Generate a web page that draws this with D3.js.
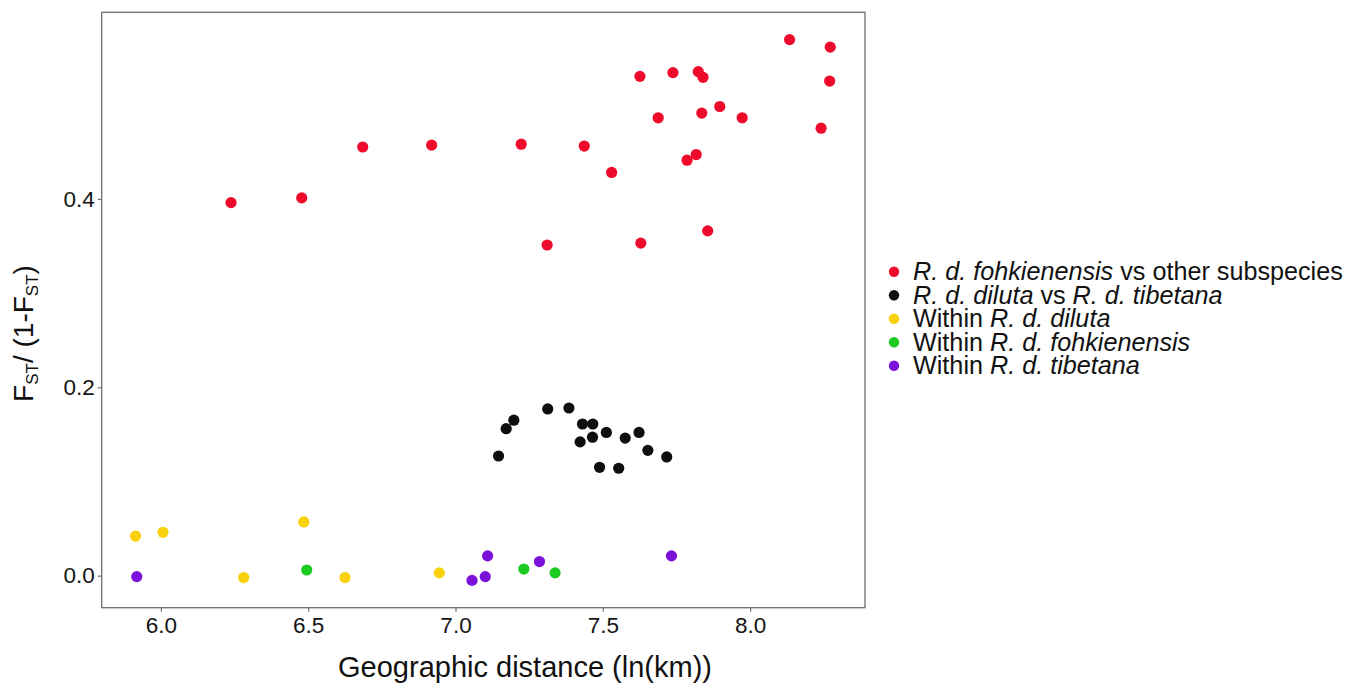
<!DOCTYPE html>
<html>
<head>
<meta charset="utf-8">
<script src="https://cdn.jsdelivr.net/npm/d3@7"></script>
<style>
  html, body { margin: 0; padding: 0; background: #fff; }
  svg { display: block; font-family: "Liberation Sans", Arial, Helvetica, sans-serif; }
  text { white-space: pre; }
</style>
</head>
<body>
<svg id="chart" width="1357" height="694"></svg>
<script>
// ---- data ----
const seriesNames = ["fohk_vs_other", "diluta_vs_tibetana", "within_diluta", "within_fohk", "within_tibetana"];

const fohkOtherX = [6.238, 6.478, 6.685, 6.919, 8.134, 8.272, 7.626, 7.738, 7.824, 7.840, 8.270, 7.897,
                    7.688, 7.836, 7.973, 8.241, 7.223, 7.437, 7.817, 7.786, 7.530, 7.311, 7.629, 7.856];
const fohkOtherY = [0.396, 0.401, 0.455, 0.457, 0.569, 0.561, 0.530, 0.534, 0.535, 0.529, 0.525, 0.498,
                    0.486, 0.491, 0.486, 0.475, 0.458, 0.456, 0.447, 0.441, 0.428, 0.351, 0.353, 0.366];

const dilTibX = [7.313, 7.385, 7.198, 7.172, 7.431, 7.466, 7.512, 7.465, 7.423, 7.623, 7.576, 7.653,
                 7.146, 7.717, 7.489, 7.554];
const dilTibY = [0.177, 0.178, 0.165, 0.156, 0.161, 0.161, 0.152, 0.147, 0.142, 0.152, 0.146, 0.133,
                 0.127, 0.126, 0.115, 0.114];

const withinDilX = [5.914, 6.007, 6.485, 6.281, 6.625, 6.945];
const withinDilY = [0.042, 0.046, 0.057, -0.002, -0.002, 0.003];

const withinFohkX = [6.495, 7.232, 7.338];
const withinFohkY = [0.006, 0.007, 0.003];

const withinTibX = [5.918, 7.109, 7.056, 7.101, 7.285, 7.733];
const withinTibY = [-0.001, 0.021, -0.005, -0.001, 0.015, 0.021];

const xTicks = [6.0, 6.5, 7.0, 7.5, 8.0];
const yTicks = [0.0, 0.2, 0.4];

// legend labels: pieces of [text, italic]
const legendLabels = [
  [["R. d. fohkienensis", true], [" vs other subspecies", false]],
  [["R. d. diluta", true], [" vs ", false], ["R. d. tibetana", true]],
  [["Within ", false], ["R. d. diluta", true]],
  [["Within ", false], ["R. d. fohkienensis", true]],
  [["Within ", false], ["R. d. tibetana", true]]
];
const seriesColors = ["#EE0A2B", "#0E0E0E", "#F9D10C", "#1CCB22", "#7B12D9"];

// ---- chart ----
const svg = d3.select("#chart");
const panel = { left: 101.7, right: 865, top: 12.3, bottom: 607.7 };

const x = d3.scaleLinear().domain([5.799, 8.390]).range([panel.left, panel.right]);
const y = d3.scaleLinear().domain([-0.034, 0.598]).range([panel.bottom, panel.top]);

const seriesX = [fohkOtherX, dilTibX, withinDilX, withinFohkX, withinTibX];
const seriesY = [fohkOtherY, dilTibY, withinDilY, withinFohkY, withinTibY];

// panel border
svg.append("rect")
  .attr("x", panel.left).attr("y", panel.top)
  .attr("width", panel.right - panel.left).attr("height", panel.bottom - panel.top)
  .attr("fill", "#fff").attr("stroke", "#6e6e6e").attr("stroke-width", 1.3);

// axes
const xAxis = d3.axisBottom(x).tickValues(xTicks).tickFormat(d3.format(".1f")).tickSize(4).tickPadding(5);
const yAxis = d3.axisLeft(y).tickValues(yTicks).tickFormat(d3.format(".1f")).tickSize(4).tickPadding(3);

const gx = svg.append("g").attr("transform", `translate(0,${panel.bottom})`).call(xAxis);
const gy = svg.append("g").attr("transform", `translate(${panel.left},0)`).call(yAxis);
[gx, gy].forEach(g => {
  g.select(".domain").remove();
  g.selectAll(".tick line").attr("stroke", "#6e6e6e").attr("stroke-width", 1.2);
  g.selectAll(".tick text").attr("fill", "#141414").attr("font-size", 22.5)
    .attr("font-family", "Liberation Sans, Arial, sans-serif");
});

// points
seriesNames.forEach((name, i) => {
  const pts = seriesX[i].map((v, j) => [v, seriesY[i][j]]);
  svg.append("g").attr("class", name)
    .selectAll("circle").data(pts).join("circle")
    .attr("cx", d => x(d[0])).attr("cy", d => y(d[1]))
    .attr("r", 5.6).attr("fill", seriesColors[i]);
});

// x title
svg.append("text")
  .attr("x", 525).attr("y", 677)
  .attr("text-anchor", "middle").attr("font-size", 29).attr("fill", "#111")
  .text("Geographic distance (ln(km))");

// y title
const yt = svg.append("text")
  .attr("transform", "translate(33,333.5) rotate(-90)")
  .attr("text-anchor", "middle").attr("font-size", 28).attr("fill", "#111");
yt.append("tspan").text("F");
yt.append("tspan").attr("font-size", 17).attr("dy", 5).text("ST");
yt.append("tspan").attr("dy", -5).text("/ (1-F");
yt.append("tspan").attr("font-size", 17).attr("dy", 5).text("ST");
yt.append("tspan").attr("dy", -5).text(")");

// legend
const legend = svg.append("g");
const legY0 = 271.7, legDy = 23.5;
legendLabels.forEach((pieces, i) => {
  const yy = legY0 + i * legDy;
  legend.append("circle").attr("cx", 894).attr("cy", yy).attr("r", 5.2).attr("fill", seriesColors[i]);
  const t = legend.append("text").attr("x", 913).attr("y", yy + 8.5)
    .attr("font-size", 25.2).attr("fill", "#111");
  pieces.forEach(p => {
    t.append("tspan").attr("font-style", p[1] ? "italic" : "normal").text(p[0]);
  });
});
</script>
</body>
</html>
